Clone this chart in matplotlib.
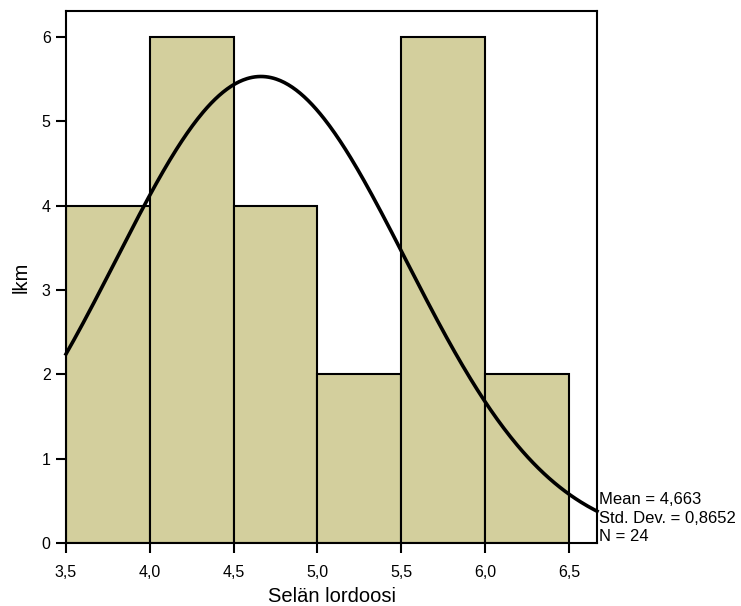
import numpy as np
import matplotlib
matplotlib.use("Agg")
import matplotlib.pyplot as plt

plt.rcParams['font.family'] = ['Liberation Sans', 'DejaVu Sans']

bin_edges = [3.5, 4.0, 4.5, 5.0, 5.5, 6.0, 6.5]
counts = [4, 6, 4, 2, 6, 2]
mean = 4.663
std = 0.8652
n = 24
xticks = [3.5, 4.0, 4.5, 5.0, 5.5, 6.0, 6.5]
yticks = [0, 1, 2, 3, 4, 5, 6]

fig = plt.figure(figsize=(7.41, 6.06), dpi=100)
ax = fig.add_axes([66/741, 63/606, (597-66)/741, (543-11)/606])

widths = np.diff(bin_edges)
ax.bar(bin_edges[:-1], counts, width=widths, align='edge', color='#d3cf9d',
       edgecolor='black', linewidth=1.5, zorder=2)

xmin, xmax = 3.5, 6.668
xs = np.linspace(xmin, xmax, 400)
bw = widths[0]
ys = n * bw / (std * np.sqrt(2 * np.pi)) * np.exp(-0.5 * ((xs - mean) / std) ** 2)
ax.plot(xs, ys, color='black', linewidth=2.6, zorder=3, clip_on=False)

ax.set_xlim(xmin, xmax)
ax.set_ylim(0, 6.31)
ax.set_xticks(xticks)
ax.set_xticklabels([f"{v:.1f}".replace('.', ',') for v in xticks])
ax.set_yticks(yticks)
ax.tick_params(axis='both', direction='out', length=7, width=1.5, labelsize=11.5)
ax.tick_params(axis='x', pad=9)
ax.tick_params(axis='y', pad=4)
ax.tick_params(top=False, right=False)
for s in ax.spines.values():
    s.set_linewidth(1.5)

ax.set_xlabel('Selän lordoosi', fontsize=14.5, labelpad=5)
ax.set_ylabel('lkm', fontsize=14.5, labelpad=8)

stats = "Mean = " + f"{mean:.3f}".replace('.', ',') + "\n" + \
        "Std. Dev. = " + f"{std:.4f}".replace('.', ',') + "\n" + f"N = {n}"
fig.text(599/741, 1 - 492/606, stats, fontsize=12, va='top', ha='left', linespacing=1.3)

fig.savefig('out.png', dpi=100)
